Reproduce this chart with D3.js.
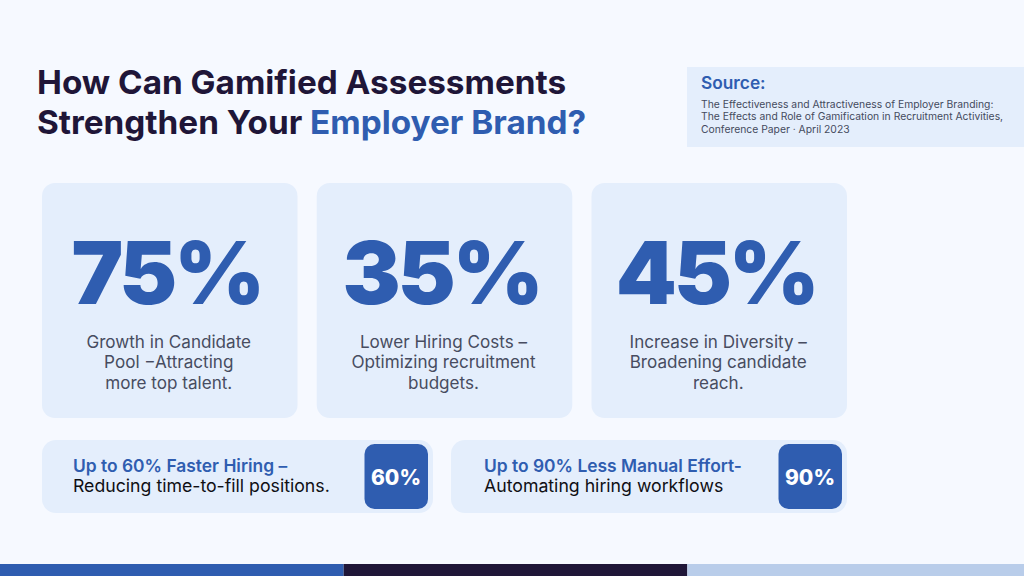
<!DOCTYPE html>
<html>
<head>
<meta charset="utf-8">
<script src="https://cdnjs.cloudflare.com/ajax/libs/d3/7.8.5/d3.min.js"></script>
<style>
  html, body { margin: 0; padding: 0; background: #f6f9ff; overflow: hidden; }
  svg { display: block; font-family: Inter, sans-serif; }
</style>
</head>
<body>
<svg id="chart" width="1024" height="576"></svg>
<script>
// chart content
var cardValues = [75, 35, 45];
var cardLines = [
  ["Growth in Candidate", "Pool \u2212Attracting", "more top talent."],
  ["Lower Hiring Costs \u2013", "Optimizing recruitment", "budgets."],
  ["Increase in Diversity \u2013", "Broadening candidate", "reach."]
];
var pillValues = [60, 90];
var pillHeads = ["Up to 60% Faster Hiring \u2013", "Up to 90% Less Manual Effort-"];
var pillTexts = ["Reducing time-to-fill positions.", "Automating hiring workflows"];
var sourceLines = [
  "The Effectiveness and Attractiveness of Employer Branding:",
  "The Effects and Role of Gamification in Recruitment Activities,",
  "Conference Paper \u00b7 April 2023"
];
var stripKeys = ["blue", "dark", "light"];

var blue = "#2f5db0", dark = "#1f1638", cardFill = "#e4eefc";
var svg = d3.select("#chart");

// title
var title = svg.append("g")
  .attr("font-size", 33.3)
  .attr("font-weight", 700)
  .attr("fill", dark);
title.append("text").attr("x", 37).attr("y", 94).text("How Can Gamified Assessments");
var t2 = title.append("text").attr("x", 37).attr("y", 134);
t2.append("tspan").text("Strengthen Your ");
t2.append("tspan").attr("fill", blue).text("Employer Brand?");

// source box
svg.append("rect").attr("x", 687).attr("y", 67).attr("width", 337).attr("height", 80).attr("fill", cardFill);
svg.append("text").attr("x", 701).attr("y", 89)
  .attr("font-size", 17.3).attr("font-weight", 600).attr("fill", blue)
  .text("Source:");
svg.selectAll(".src").data(sourceLines).enter().append("text")
  .attr("class", "src")
  .attr("x", 701)
  .attr("y", function (d, i) { return 108 + i * 12.4; })
  .attr("font-size", 10.35)
  .attr("fill", "#454b5e")
  .text(function (d) { return d; });

// three big cards
var x = d3.scaleBand().domain(cardValues).range([42, 847]).paddingInner(0.07);
var card = svg.selectAll(".card").data(cardValues).enter().append("g")
  .attr("class", "card")
  .attr("transform", function (d) { return "translate(" + x(d) + ",183)"; });

card.append("rect")
  .attr("width", x.bandwidth()).attr("height", 235).attr("rx", 13)
  .attr("fill", cardFill);

card.append("text")
  .attr("x", x.bandwidth() / 2 - 3).attr("y", 121)
  .attr("text-anchor", "middle")
  .attr("font-size", 87).attr("font-weight", 900)
  .attr("letter-spacing", -3)
  .attr("fill", blue)
  .text(function (d) { return d + "%"; });

card.each(function (d, i) {
  d3.select(this).selectAll(".desc").data(cardLines[i]).enter().append("text")
    .attr("class", "desc")
    .attr("x", x.bandwidth() / 2 - 1)
    .attr("y", function (l, j) { return 164.5 + j * 20.9; })
    .attr("text-anchor", "middle")
    .attr("font-size", 17.1)
    .attr("fill", "#474c60")
    .text(function (l) { return l; });
});

// two pills with badges
var pillX = d3.scaleOrdinal().domain(pillValues).range([42, 451]);
var pillW = d3.scaleOrdinal().domain(pillValues).range([391, 396]);
var pill = svg.selectAll(".pill").data(pillValues).enter().append("g")
  .attr("class", "pill")
  .attr("transform", function (d) { return "translate(" + pillX(d) + ",440)"; });

pill.append("rect")
  .attr("width", function (d) { return pillW(d); }).attr("height", 73).attr("rx", 14)
  .attr("fill", cardFill);

pill.append("text")
  .attr("x", function (d, i) { return i == 0 ? 31 : 33; }).attr("y", 32)
  .attr("font-size", 17.4).attr("font-weight", 600).attr("fill", blue)
  .text(function (d, i) { return pillHeads[i]; });

pill.append("text")
  .attr("x", function (d, i) { return i == 0 ? 31 : 33; }).attr("y", 52)
  .attr("font-size", 17.7).attr("fill", "#0f0f14")
  .text(function (d, i) { return pillTexts[i]; });

pill.append("rect")
  .attr("x", function (d) { return pillW(d) - 68.5; }).attr("y", 4)
  .attr("width", 63.5).attr("height", 65).attr("rx", 10)
  .attr("fill", blue);

pill.append("text")
  .attr("x", function (d) { return pillW(d) - 37; }).attr("y", 44.5)
  .attr("text-anchor", "middle")
  .attr("font-size", 21).attr("font-weight", 800).attr("fill", "#fff")
  .text(function (d) { return d + "%"; });

// bottom strip
var stripX = d3.scaleBand().domain(stripKeys).range([0, 1031]);
var stripColor = d3.scaleOrdinal().domain(stripKeys).range([blue, dark, "#b9cdea"]);
svg.selectAll(".strip").data(stripKeys).enter().append("rect")
  .attr("class", "strip")
  .attr("x", function (d) { return stripX(d); })
  .attr("y", 564)
  .attr("width", stripX.bandwidth())
  .attr("height", 12)
  .attr("fill", function (d) { return stripColor(d); });
</script>
</body>
</html>
